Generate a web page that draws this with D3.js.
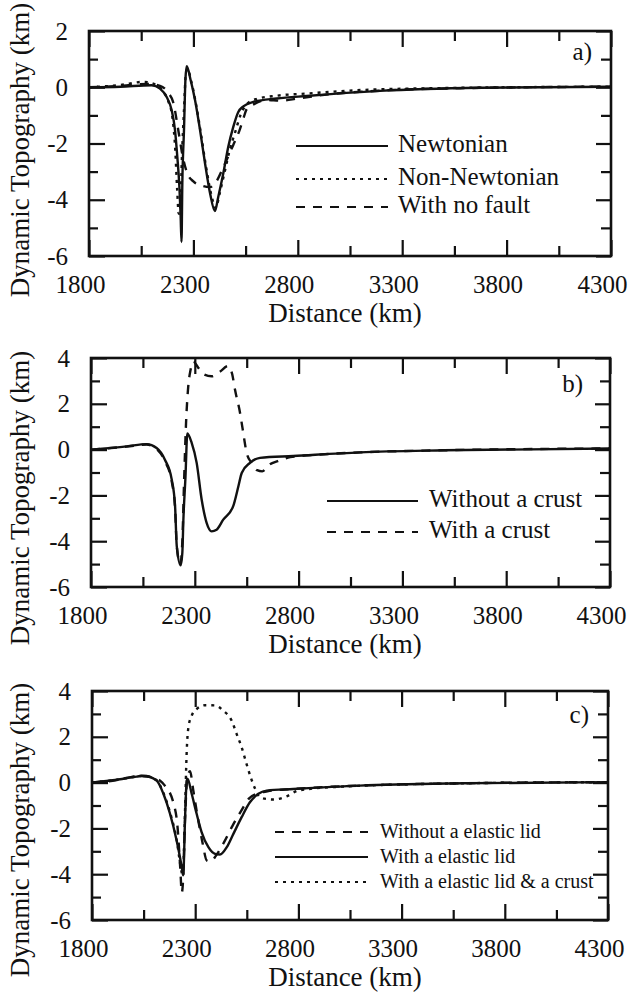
<!DOCTYPE html>
<html>
<head>
<meta charset="utf-8">
<script src="https://cdn.jsdelivr.net/npm/d3@7"></script>
<style>
body { margin: 0; background: #fff; }
svg { display: block; font-family: "Liberation Serif", "Times New Roman", serif; }
.axis path { display: none; }
.axis line { stroke: #111; stroke-width: 2.2; }
.axis text { font-family: "Liberation Serif", "Times New Roman", serif; font-size: 25px; fill: #111; }
.marco { fill: none; stroke: #111; stroke-width: 2.6; }
.curva { fill: none; stroke: #111; stroke-width: 2.4; stroke-linejoin: round; }
.leyenda { font-size: 25px; fill: #111; }
.etiqueta { font-size: 27px; fill: #111; }
</style>
</head>
<body>
<div id="grafico"></div>
<script>
// Ticks
const distTicks = [1800, 2300, 2800, 3300, 3800, 4300]
const distMinor = [2050, 2550, 3050, 3550, 4050]
const topoTicksA = [-6, -4, -2, 0, 2]
const topoMinorA = [-5, -3, -1, 1]
const topoTicksBC = [-6, -4, -2, 0, 2, 4]
const topoMinorBC = [-5, -3, -1, 1, 3]

// Panel a) [distancia km, topografia km]
const newtonian = [[1800,0],[1950,0.02],[2100,0.07],[2140,-0.05],[2172,-0.35],[2196,-0.82],[2212,-1.53],[2223,-2.48],[2233,-3.55],[2239,-4.6],[2243,-5.5],[2247,-3.4],[2255,-1.5],[2262,0.3],[2268,0.75],[2287,0.25],[2308,-0.46],[2332,-1.53],[2356,-2.72],[2380,-3.78],[2403,-4.4],[2419,-3.9],[2443,-3.07],[2467,-2.12],[2491,-1.41],[2515,-0.88],[2539,-0.68],[2587,-0.52],[2699,-0.4],[2842,-0.31],[3194,-0.13],[3673,-0.02],[4300,0.02]]
const nonNewtonian = [[1800,0],[1950,0.08],[2060,0.19],[2110,0.12],[2150,-0.1],[2180,-0.5],[2200,-1.1],[2213,-2.2],[2222,-3.6],[2230,-4.5],[2237,-4.3],[2245,-2.5],[2255,-0.8],[2264,0.5],[2272,0.65],[2290,0.2],[2310,-0.5],[2335,-1.6],[2360,-2.8],[2385,-3.8],[2407,-4.3],[2425,-3.8],[2450,-3.0],[2475,-2.2],[2500,-1.6],[2525,-1.0],[2550,-0.65],[2600,-0.42],[2700,-0.3],[2850,-0.22],[3100,-0.1],[3500,-0.03],[4300,0.02]]
const noFault = [[1800,0],[1950,0.05],[2080,0.12],[2140,0.05],[2180,-0.2],[2204,-0.55],[2227,-1.5],[2250,-2.5],[2270,-3.05],[2300,-3.35],[2340,-3.5],[2380,-3.55],[2410,-3.35],[2443,-2.85],[2491,-2.05],[2520,-1.55],[2540,-1.1],[2555,-0.78],[2590,-0.6],[2650,-0.45],[2720,-0.48],[2800,-0.4],[2950,-0.25],[3200,-0.12],[3600,-0.03],[4300,0.02]]

// Panel b)
const sinCorteza = [[1800,0],[1972,0.14],[2068,0.24],[2116,0.07],[2156,-0.44],[2189,-1.31],[2205,-2.47],[2213,-4.2],[2232,-5.05],[2240,-4.5],[2245,-3.06],[2255,-1.2],[2264,0.7],[2285,0.29],[2309,-0.58],[2333,-2.18],[2357,-3.2],[2381,-3.57],[2405,-3.5],[2437,-3.06],[2485,-2.47],[2510,-1.6],[2526,-1.02],[2566,-0.58],[2614,-0.36],[2774,-0.28],[3096,-0.12],[3500,-0.03],[4300,0.05]]
const conCorteza = [[1800,0],[1972,0.13],[2068,0.22],[2116,0.03],[2156,-0.5],[2189,-1.4],[2205,-2.55],[2213,-4.2],[2230,-5.0],[2240,-4.0],[2248,-1.5],[2258,1.2],[2267,2.6],[2280,3.5],[2293,3.85],[2315,3.6],[2341,3.3],[2381,3.2],[2420,3.4],[2461,3.65],[2480,3.3],[2494,2.6],[2518,1.6],[2531,0.87],[2550,-0.15],[2575,-0.6],[2600,-0.9],[2625,-0.95],[2660,-0.65],[2700,-0.5],[2760,-0.33],[2900,-0.22],[3100,-0.12],[3500,-0.03],[4300,0.05]]

// Panel c)
const sinLitosfera = [[1800,0],[1900,0.08],[2030,0.28],[2080,0.25],[2130,0.08],[2150,-0.1],[2195,-0.9],[2215,-2.0],[2228,-3.8],[2235,-4.8],[2241,-4.3],[2250,-1.8],[2262,0.2],[2275,0.5],[2290,-0.3],[2310,-1.4],[2335,-2.6],[2356,-3.4],[2375,-3.45],[2400,-3.2],[2440,-2.6],[2480,-1.9],[2525,-1.2],[2560,-0.7],[2600,-0.48],[2650,-0.38],[2775,-0.28],[3098,-0.13],[3600,-0.03],[4300,0.02]]
const conLitosfera = [[1800,0],[1900,0.1],[2017,0.26],[2049,0.3],[2113,0.09],[2146,-0.49],[2178,-1.36],[2210,-2.53],[2235,-3.69],[2242,-4.05],[2251,-1.51],[2259,0.09],[2263,0.17],[2283,-0.49],[2307,-1.36],[2331,-2.16],[2364,-2.82],[2396,-3.11],[2420,-3.14],[2453,-2.82],[2485,-2.24],[2525,-1.51],[2565,-0.86],[2606,-0.49],[2646,-0.35],[2775,-0.28],[3098,-0.13],[3600,-0.03],[4300,0.02]]
const litosferaCorteza = [[1800,0],[1900,0.1],[2017,0.27],[2049,0.3],[2113,0.1],[2146,-0.45],[2178,-1.3],[2210,-2.5],[2232,-3.8],[2240,-4.1],[2250,-1.5],[2259,1.39],[2267,2.41],[2283,2.92],[2307,3.21],[2348,3.38],[2396,3.37],[2436,3.14],[2477,2.7],[2501,2.12],[2525,1.54],[2549,0.81],[2569,0.23],[2590,-0.26],[2614,-0.64],[2650,-0.72],[2678,-0.74],[2743,-0.6],[2800,-0.35],[3000,-0.18],[3600,-0.03],[4300,0.02]]

const leyendaA = ["Newtonian", "Non-Newtonian", "With no fault"]
const leyendaB = ["Without a crust", "With a crust"]
const leyendaC = ["Without a elastic lid", "With a elastic lid", "With a elastic lid & a crust"]

const continua = null
const punteada = "3,5"
const rayada = "9,8"

// Paneles
const paneles = [
  { left: 89, top: 31, right: 611, bottom: 256, dominio: [-6, 2], ticks: topoTicksA, minor: topoMinorA, letra: "a)", letraX: 592, letraY: 60, yLabel: 150,
    series: [newtonian, nonNewtonian, noFault], estilos: [continua, punteada, rayada],
    nombres: leyendaA, leyX1: 296, leyX2: 388, leyTx: 398, leyY: [152, 185, 213], leySize: 25 },
  { left: 91, top: 358, right: 610, bottom: 587, dominio: [-6, 4], ticks: topoTicksBC, minor: topoMinorBC, letra: "b)", letraX: 583, letraY: 392, yLabel: 498,
    series: [sinCorteza, conCorteza], estilos: [continua, rayada],
    nombres: leyendaB, leyX1: 327, leyX2: 418, leyTx: 429, leyY: [507, 538], leySize: 25 },
  { left: 92, top: 691, right: 608, bottom: 920, dominio: [-6, 4], ticks: topoTicksBC, minor: topoMinorBC, letra: "c)", letraX: 589, letraY: 723, yLabel: 830,
    series: [sinLitosfera, conLitosfera, litosferaCorteza], estilos: [rayada, continua, punteada],
    nombres: leyendaC, leyX1: 275, leyX2: 368, leyTx: 380, leyY: [838, 863, 888], leySize: 20 },
]

const svg = d3.select("#grafico").append("svg")
  .attr("width", 631)
  .attr("height", 994)

const drawPanel = (p) => {
  const x = d3.scaleLinear().domain([1800, 4300]).range([p.left, p.right])
  const y = d3.scaleLinear().domain(p.dominio).range([p.bottom, p.top])
  const g = svg.append("g")

  const eje = (axis, tx, ty) => g.append("g")
    .attr("transform", `translate(${tx},${ty})`)
    .classed("axis", true)
    .call(axis)

  // ejes x (abajo y arriba, ticks hacia adentro)
  eje(d3.axisBottom(x).tickValues(distTicks).tickSize(-16).tickSizeOuter(0).tickPadding(19).tickFormat(d => d), 0, p.bottom)
    .selectAll("text").attr("dx", -9)
  eje(d3.axisBottom(x).tickValues(distMinor).tickSize(-10).tickSizeOuter(0).tickFormat(""), 0, p.bottom)
  eje(d3.axisTop(x).tickValues(distTicks).tickSize(-16).tickSizeOuter(0).tickFormat(""), 0, p.top)
  eje(d3.axisTop(x).tickValues(distMinor).tickSize(-10).tickSizeOuter(0).tickFormat(""), 0, p.top)

  // ejes y
  eje(d3.axisLeft(y).tickValues(p.ticks).tickSize(-16).tickSizeOuter(0).tickPadding(21).tickFormat(d => String(d)), p.left, 0)
  eje(d3.axisLeft(y).tickValues(p.minor).tickSize(-9).tickSizeOuter(0).tickFormat(""), p.left, 0)
  eje(d3.axisRight(y).tickValues(p.ticks).tickSize(-15).tickSizeOuter(0).tickFormat(""), p.right, 0)
  eje(d3.axisRight(y).tickValues(p.minor).tickSize(-10).tickSizeOuter(0).tickFormat(""), p.right, 0)

  // marco
  g.append("rect")
    .attr("x", p.left)
    .attr("y", p.top)
    .attr("width", p.right - p.left)
    .attr("height", p.bottom - p.top)
    .classed("marco", true)

  // curvas
  const linea = d3.line()
    .x(d => x(d[0]))
    .y(d => y(d[1]))
    .curve(d3.curveMonotoneX)

  p.series.forEach((s, i) => {
    g.append("path")
      .attr("d", linea(s))
      .attr("stroke-dasharray", p.estilos[i])
      .classed("curva", true)
  })

  // leyenda
  p.nombres.forEach((n, i) => {
    g.append("line")
      .attr("x1", p.leyX1).attr("x2", p.leyX2)
      .attr("y1", p.leyY[i] - 6).attr("y2", p.leyY[i] - 6)
      .attr("stroke", "#111")
      .attr("stroke-width", 2.2)
      .attr("stroke-dasharray", p.estilos[i])
    g.append("text")
      .attr("x", p.leyTx)
      .attr("y", p.leyY[i])
      .style("font-size", p.leySize + "px")
      .classed("leyenda", true)
      .text(n)
  })

  // letra del panel
  g.append("text")
    .attr("x", p.letraX)
    .attr("y", p.letraY)
    .attr("text-anchor", "end")
    .classed("leyenda", true)
    .text(p.letra)

  // titulos de ejes
  g.append("text")
    .attr("x", 345)
    .attr("y", p.bottom + 66)
    .attr("text-anchor", "middle")
    .classed("etiqueta", true)
    .text("Distance (km)")

  g.append("text")
    .attr("transform", `translate(29,${p.yLabel}) rotate(-90)`)
    .attr("text-anchor", "middle")
    .classed("etiqueta", true)
    .text("Dynamic Topography (km)")
}

paneles.forEach(drawPanel)
</script>
</body>
</html>
